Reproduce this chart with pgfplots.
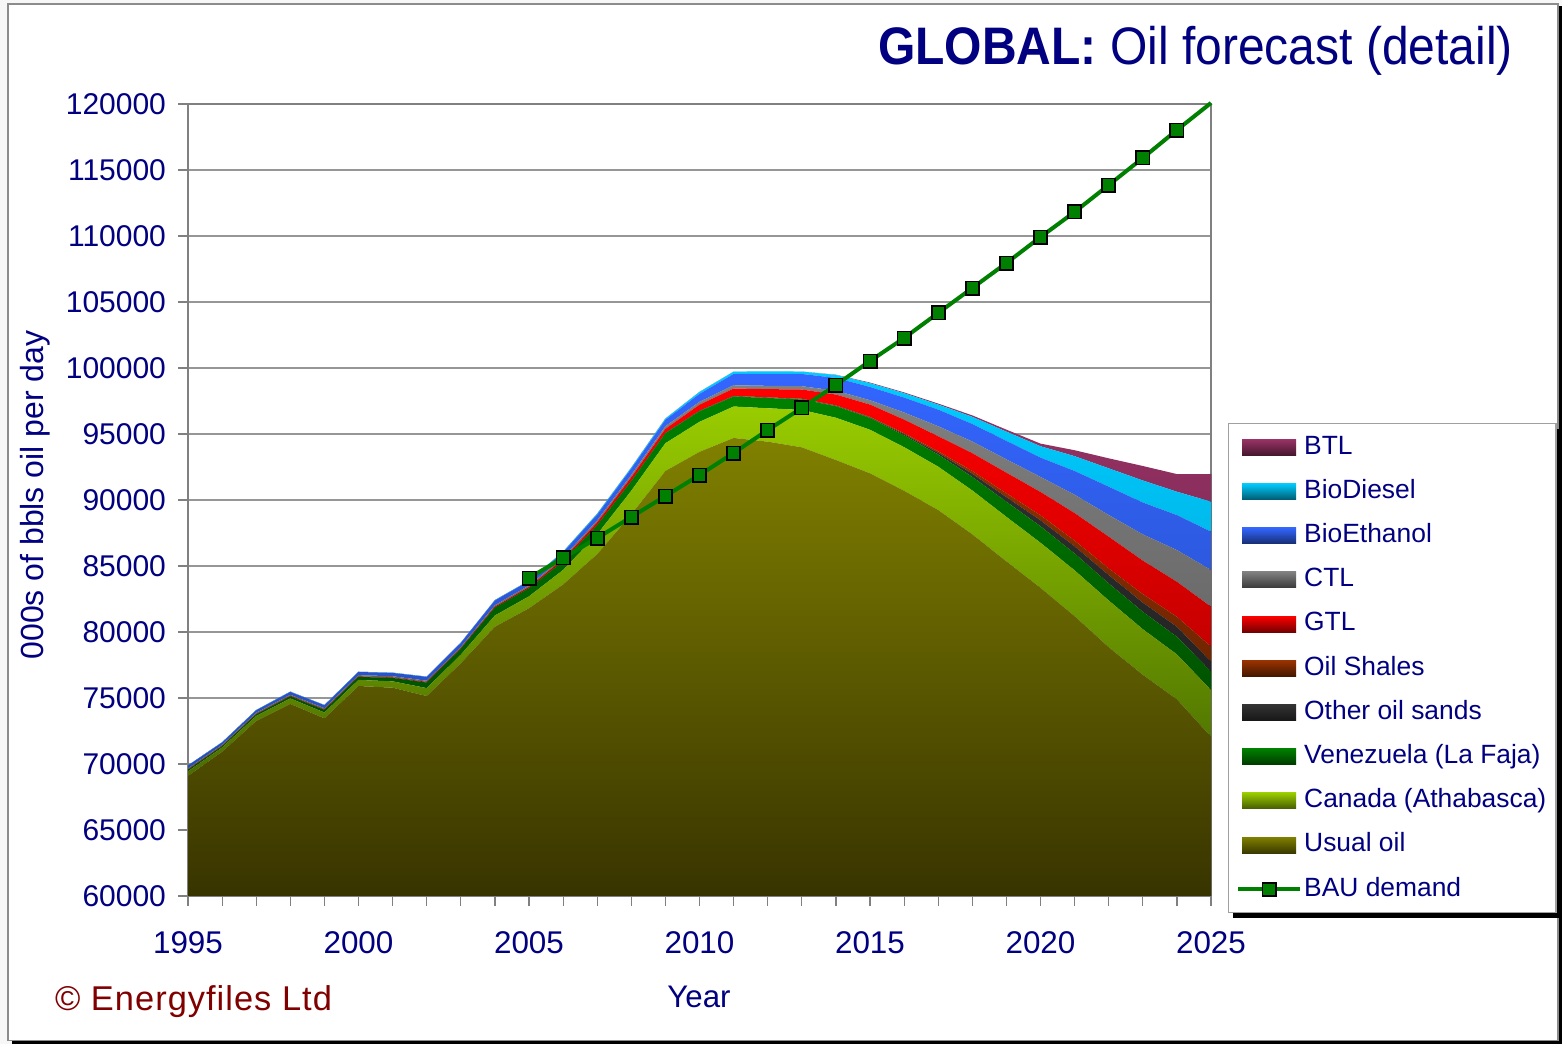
\documentclass[border=0pt]{standalone}
\usepackage{fontspec}
\setmainfont{Liberation Sans}
\newfontfamily\copyfont[LetterSpace=3]{Liberation Sans}
\usepackage{pgfplots}
\pgfplotsset{compat=1.18}
\usepackage{pgfplotstable}

\definecolor{navy}{RGB}{0,0,128}
\definecolor{copyred}{RGB}{128,0,0}
\definecolor{bau}{RGB}{0,128,0}
\definecolor{frame}{RGB}{140,140,140}
\definecolor{axgray}{RGB}{128,128,128}
\definecolor{gridgray}{RGB}{150,150,150}
\definecolor{leggray}{RGB}{160,160,160}
\definecolor{usualT}{RGB}{128,128,0}\definecolor{usualB}{RGB}{56,52,0}
\definecolor{canT}{RGB}{153,204,0}\definecolor{canB}{RGB}{74,110,0}
\definecolor{venT}{RGB}{0,128,0}\definecolor{venB}{RGB}{0,72,0}
\definecolor{othT}{RGB}{51,51,51}\definecolor{othB}{RGB}{30,30,30}
\definecolor{shaT}{RGB}{153,51,0}\definecolor{shaB}{RGB}{96,32,0}
\definecolor{gtlT}{RGB}{255,0,0}\definecolor{gtlB}{RGB}{170,0,0}
\definecolor{ctlT}{RGB}{128,128,128}\definecolor{ctlB}{RGB}{92,92,92}
\definecolor{ethT}{RGB}{51,102,255}\definecolor{ethB}{RGB}{38,76,190}
\definecolor{dieT}{RGB}{0,204,255}\definecolor{dieB}{RGB}{0,160,210}
\definecolor{btlT}{RGB}{153,51,102}\definecolor{btlB}{RGB}{110,36,74}

\pgfplotstableread{
Year Usual Canada Venez Other Shales GTL CTL BioEth BioDie BTL
1995 69100 350 100 0 0 30 100 200 20 0
1996 70930 320 90 0 0 30 80 180 20 0
1997 73260 380 120 0 0 30 90 190 20 0
1998 74550 420 150 0 0 40 90 210 20 0
1999 73460 440 200 0 0 40 90 220 20 0
2000 75910 460 230 0 0 40 90 240 20 0
2001 75780 480 260 0 0 40 90 250 20 0
2002 75150 600 420 0 0 50 90 290 20 0
2003 77630 650 450 0 0 50 90 300 20 0
2004 80400 850 600 0 0 80 100 360 30 0
2005 81800 900 620 10 0 90 110 330 30 0
2006 83600 1100 650 10 5 150 130 380 60 0
2007 85900 1500 700 10 5 200 150 420 80 0
2008 88900 1800 730 15 5 280 180 460 90 0
2009 92200 2100 760 20 10 300 200 480 100 0
2010 93650 2270 810 25 15 450 220 600 150 0
2011 94700 2380 760 30 20 555 250 850 180 0
2012 94420 2530 780 30 20 620 250 900 200 0
2013 93990 2830 800 30 20 700 250 930 180 0
2014 93030 3200 880 35 25 820 290 970 220 20
2015 92020 3300 900 40 35 934 330 1007 280 50
2016 90700 3300 900 80 80 1030 540 1130 330 60
2017 89240 3283 920 130 120 1136 758 1262 380 76
2018 87400 3320 1030 240 210 1350 880 1330 540 110
2019 85350 3370 1150 350 290 1560 1010 1400 700 150
2020 83350 3409 1250 455 379 1767 1137 1465 860 200
2021 81200 3470 1280 540 440 2080 1390 1800 1120 450
2022 78850 3536 1300 631 505 2399 1642 2146 1390 758
2023 76760 3450 1320 697 644 2538 1985 2417 1667 1098
2024 74900 3400 1340 758 758 2651 2400 2651 1767 1339
2025 72070 3535 1390 758 1136 3030 2778 2903 2273 2097
}\oildata

\pgfplotstableread{
Year BAU
2005 84090
2006 85610
2007 87120
2008 88710
2009 90300
2010 91890
2011 93560
2012 95300
2013 96970
2014 98710
2015 100530
2016 102270
2017 104170
2018 106060
2019 107950
2020 109920
2021 111820
2022 113860
2023 115910
2024 118030
2025 120080
}\baudata

\pgfplotsset{
  swatch/.style={legend image code/.code={\shade[top color=#1, bottom color=#1!45!black, draw=none] (0pt,-4pt) rectangle (27pt,4pt);}},
  baulegend/.style={legend image code/.code={\draw[bau, line width=2pt] (-2pt,0pt) -- (29pt,0pt); \draw[fill=bau, draw=black, line width=0.9pt] (10.2pt,-3.3pt) rectangle (16.8pt,3.3pt);}},
  geom/.style={at={(94pt,74pt)}, anchor=south west, scale only axis, width=511.5pt, height=396pt,
    xmin=1995, xmax=2025, ymin=60000, ymax=120000},
}

\begin{document}
\begin{tikzpicture}
\fill[gray!6] (0pt,0pt) rectangle (781pt,522pt);
\fill[black] (6pt,0pt) rectangle (781pt,519pt);
\fill[white, draw=frame, line width=0.6pt] (4pt,1.8pt) rectangle (779pt,520pt);
% legend shadow
\fill[black] (616.5pt,63pt) rectangle (781pt,307.5pt);

\begin{axis}[geom,
  stack plots=y,
  xtick={1995,2000,...,2025}, minor x tick num=4,
  ytick={60000,65000,...,120000},
  tick align=outside, tick pos=left,
  major tick length=5pt, minor tick length=5pt,
  tick style={draw=axgray, line width=0.6pt},
  ymajorgrids, grid style={draw=gridgray, line width=0.6pt},
  axis line style={draw=axgray, line width=0.8pt},
  scaled y ticks=false,
  /pgf/number format/assume math mode=true,
  xticklabel style={/pgf/number format/1000 sep={}, font=\fontsize{15.7}{18}\selectfont, text=navy, yshift=-9.5pt},
  yticklabel style={/pgf/number format/1000 sep={}, /pgf/number format/fixed, font=\fontsize{15}{18}\selectfont, text=navy, xshift=-2.5pt},
  legend cell align=left,
  legend style={at={(1.0166,0.597)}, anchor=north west,
    draw=leggray, fill=white, line width=0.6pt,
    font=\fontsize{13.2}{15}\selectfont, text=navy,
    inner xsep=3.8pt, inner ysep=4.7pt, row sep=8pt,
    nodes={inner sep=1pt, text height=9.5pt, text depth=2.6pt}},
]
\addlegendimage{swatch=btlT}\addlegendentry{BTL}
\addlegendimage{swatch=dieT}\addlegendentry{BioDiesel}
\addlegendimage{swatch=ethT}\addlegendentry{BioEthanol}
\addlegendimage{swatch=ctlT}\addlegendentry{CTL}
\addlegendimage{swatch=gtlT}\addlegendentry{GTL}
\addlegendimage{swatch=shaT}\addlegendentry{Oil Shales}
\addlegendimage{swatch=othT}\addlegendentry{Other oil sands}
\addlegendimage{swatch=venT}\addlegendentry{Venezuela (La Faja)}
\addlegendimage{swatch=canT}\addlegendentry{Canada (Athabasca)}
\addlegendimage{swatch=usualT}\addlegendentry{Usual oil}
\addlegendimage{baulegend}\addlegendentry{BAU demand}

\addplot[draw=none, top color=usualT, bottom color=usualB] table[x=Year,y=Usual]{\oildata} \closedcycle;
\addplot[draw=none, top color=canT, bottom color=canB] table[x=Year,y=Canada]{\oildata} \closedcycle;
\addplot[draw=none, top color=venT, bottom color=venB] table[x=Year,y=Venez]{\oildata} \closedcycle;
\addplot[draw=none, top color=othT, bottom color=othB] table[x=Year,y=Other]{\oildata} \closedcycle;
\addplot[draw=none, top color=shaT, bottom color=shaB] table[x=Year,y=Shales]{\oildata} \closedcycle;
\addplot[draw=none, top color=gtlT, bottom color=gtlB] table[x=Year,y=GTL]{\oildata} \closedcycle;
\addplot[draw=none, top color=ctlT, bottom color=ctlB] table[x=Year,y=CTL]{\oildata} \closedcycle;
\addplot[draw=none, top color=ethT, bottom color=ethB] table[x=Year,y=BioEth]{\oildata} \closedcycle;
\addplot[draw=none, top color=dieT, bottom color=dieB] table[x=Year,y=BioDie]{\oildata} \closedcycle;
\addplot[draw=none, top color=btlT, bottom color=btlB] table[x=Year,y=BTL]{\oildata} \closedcycle;
\draw[black, line width=1.8pt] (axis cs:2025,60000) -- (axis cs:2025,91969);
\end{axis}

\begin{axis}[geom, hide axis, clip=false]
\addplot[bau, line width=2pt, mark=none] table[x=Year,y=BAU]{\baudata};
\addplot[only marks, mark=square*, mark size=3.3pt, mark options={fill=bau, draw=black, line width=0.9pt},
  skip coords between index={20}{21}] table[x=Year,y=BAU]{\baudata};
\end{axis}

\node[anchor=base east, text=navy, font=\fontsize{24}{28}\selectfont, yscale=1.1] at (760pt,489.5pt) {\textbf{GLOBAL:} Oil forecast (detail)};
\node[rotate=90, text=navy, font=\fontsize{16}{19}\selectfont] at (17.5pt,274.5pt) {000s of bbls oil per day};
\node[text=navy, font=\fontsize{15.6}{18}\selectfont] at (349.5pt,23.5pt) {Year};
\node[anchor=west, text=copyred, font=\fontsize{17.2}{20}\selectfont] at (24pt,21pt) {\copyfont © Energyfiles Ltd};
\end{tikzpicture}
\end{document}
